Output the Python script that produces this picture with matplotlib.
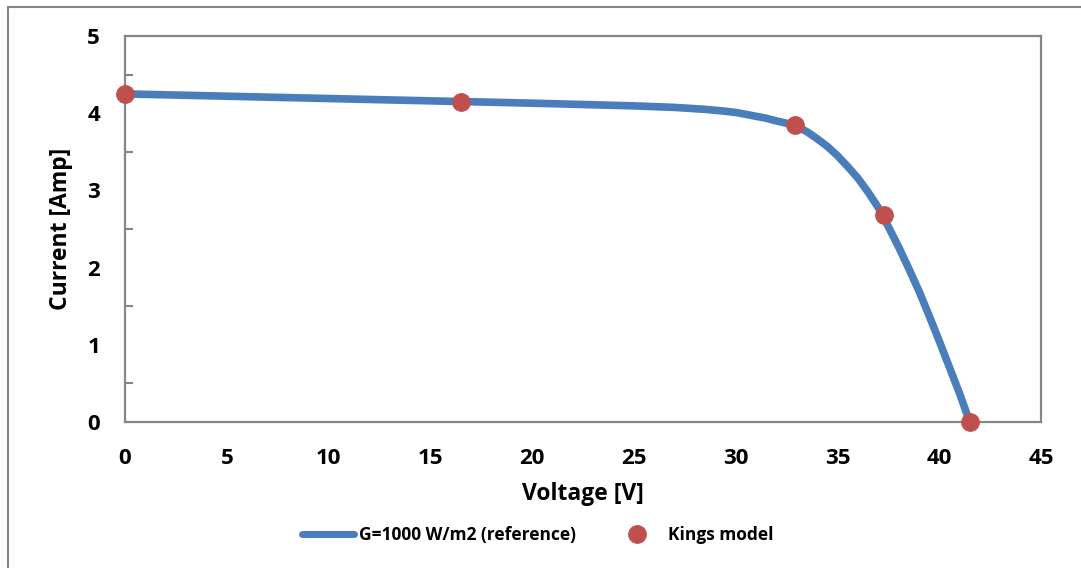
import matplotlib
matplotlib.use("Agg")
import matplotlib.pyplot as plt
from matplotlib.patches import Rectangle
from matplotlib.ticker import MultipleLocator

# reference curve
ref_v = [0, 5, 10, 15, 20, 25, 27, 28.5, 29.5, 30, 30.5, 31, 31.5, 32, 32.5, 33, 33.5, 34,
         34.5, 35, 35.5, 36, 36.5, 37, 37.5, 38, 38.5, 39, 39.5, 40, 40.5, 41, 41.5]
ref_i = [4.25, 4.22, 4.19, 4.16, 4.13, 4.095, 4.075, 4.05, 4.025, 4.01, 3.985, 3.96, 3.935,
         3.90, 3.87, 3.83, 3.76, 3.67, 3.57, 3.45, 3.31, 3.16, 2.98, 2.78, 2.53, 2.27, 1.99,
         1.70, 1.38, 1.05, 0.71, 0.37, 0.0]

# Kings model points
kings_v = [0, 16.5, 32.9, 37.3, 41.5]
kings_i = [4.25, 4.15, 3.85, 2.68, 0.0]

xticks = [0, 5, 10, 15, 20, 25, 30, 35, 40, 45]
yticks = [0, 1, 2, 3, 4, 5]

plt.rcParams['font.family'] = ['Open Sans', 'DejaVu Sans']
plt.rcParams['font.weight'] = 'bold'

fig = plt.figure(figsize=(10.81, 5.68), dpi=100)
ax = fig.add_axes([125 / 1081, 146 / 568, 916 / 1081, 386 / 568])

ax.plot(ref_v, ref_i, color='#4A7EBB', lw=5.5, solid_capstyle='round',
        solid_joinstyle='round', label='G=1000 W/m2 (reference)', zorder=2)
ax.plot(kings_v, kings_i, 'o', color='#C0504D', ms=12.5, mec='#C0504D',
        label='Kings model', zorder=3, clip_on=False)

ax.set_xlim(0, 45)
ax.set_ylim(0, 5)
ax.set_xticks(xticks)
ax.set_yticks(yticks)
ax.yaxis.set_minor_locator(MultipleLocator(0.5))
ax.tick_params(axis='x', length=0, pad=19, labelsize=16)
ax.tick_params(axis='y', which='both', direction='in', length=6, width=1.5,
               color='#868686', pad=18, labelsize=16)
ax.tick_params(axis='y', which='major', length=0)
for lbl in ax.get_xticklabels() + ax.get_yticklabels():
    lbl.set_fontweight('bold')

for s in ax.spines.values():
    s.set_color('#868686')
    s.set_linewidth(1.6)

ax.set_xlabel('Voltage [V]', fontsize=16.5, fontweight='bold', labelpad=9)
ax.set_ylabel('Current [Amp]', fontsize=16.5, fontweight='bold', labelpad=10)

leg = fig.legend(loc='center', bbox_to_anchor=(538 / 1081, 33 / 568), ncol=2, frameon=False,
                 fontsize=12.5, handlelength=3.0, columnspacing=2.0, handletextpad=0.3)
for t in leg.get_texts():
    t.set_fontweight('bold')
leg.legend_handles[0].set_linewidth(5)

# outer chart frame
fig.patches.append(Rectangle((8 / 1081, -0.1), 1.2, 1.1 - 7 / 568, transform=fig.transFigure,
                             fill=False, edgecolor='#868686', lw=1.5))

fig.savefig('out.png', dpi=100)
